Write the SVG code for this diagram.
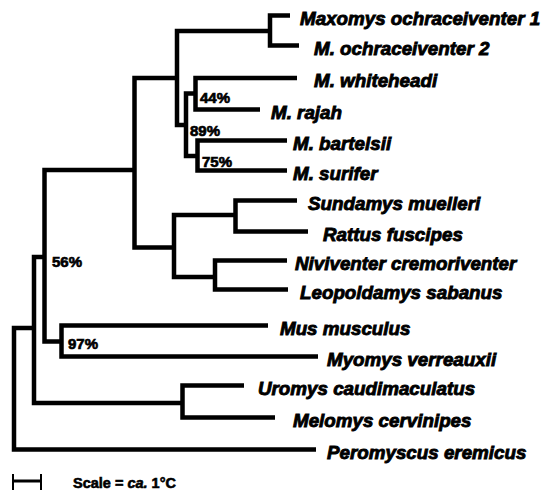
<svg xmlns="http://www.w3.org/2000/svg" width="542" height="494" viewBox="0 0 542 494">
<style>
.br{fill:none;stroke:#000;stroke-width:4.5;stroke-linejoin:miter;stroke-linecap:butt}
.tx{font-family:"Liberation Sans",Arial,sans-serif;font-weight:bold;font-style:italic;font-size:18.8px;fill:#000;stroke:#000;stroke-width:0.9}
.bs{font-family:"Liberation Sans",Arial,sans-serif;font-weight:bold;font-size:15px;fill:#000;stroke:#000;stroke-width:0.7}
.sc{font-family:"Liberation Sans",Arial,sans-serif;font-weight:bold;font-size:14.5px;fill:#000;stroke:#000;stroke-width:0.6}
</style>
<rect width="542" height="494" fill="#fff"/>
<g id="connectors">
<path class="br" d="M34 328H14V449.5H316"/>
<path class="br" d="M44.5 257H34V403H182.5"/>
<path class="br" d="M134.5 170H44.5V341.5H61.5"/>
<path class="br" d="M268 325.5H61.5V356.5H318"/>
<path class="br" d="M244 385.5H182.5V417.5H275"/>
<path class="br" d="M177 78H134.5V247.5H174"/>
<path class="br" d="M270 31H177V125H186"/>
<path class="br" d="M290 15.5H270V45.5H299"/>
<path class="br" d="M195.5 93.5H186V156H197.5"/>
<path class="br" d="M297 78H195.5V109.5H260"/>
<path class="br" d="M287 140.5H197.5V170.5H287"/>
<path class="br" d="M235.5 215H174V277H215"/>
<path class="br" d="M297 200.5H235.5V231.5H308"/>
<path class="br" d="M287 260.5H215V289.5H288"/>
</g>
<g id="support">
<text class="bs" x="200" y="103">44%</text>
<text class="bs" x="190" y="135.5">89%</text>
<text class="bs" x="202" y="167">75%</text>
<text class="bs" x="52" y="267">56%</text>
<text class="bs" x="68" y="349">97%</text>
</g>
<g id="maxomys-ochraceiventer-1"><text class="tx" x="300" y="25">Maxomys ochraceiventer 1</text></g>
<g id="m-ochraceiventer-2"><text class="tx" x="314" y="54.5">M. ochraceiventer 2</text></g>
<g id="m-whiteheadi"><text class="tx" x="314" y="87">M. whiteheadi</text></g>
<g id="m-rajah"><text class="tx" x="271" y="118.5">M. rajah</text></g>
<g id="m-bartelsii"><text class="tx" x="293" y="149.5">M. bartelsii</text></g>
<g id="m-surifer"><text class="tx" x="293" y="179.5">M. surifer</text></g>
<g id="sundamys-muelleri"><text class="tx" x="308" y="209.5">Sundamys muelleri</text></g>
<g id="rattus-fuscipes"><text class="tx" x="323" y="240.5">Rattus fuscipes</text></g>
<g id="niviventer-cremoriventer"><text class="tx" x="295" y="269.5">Niviventer cremoriventer</text></g>
<g id="leopoldamys-sabanus"><text class="tx" x="300" y="298.5">Leopoldamys sabanus</text></g>
<g id="mus-musculus"><text class="tx" x="280" y="334.5">Mus musculus</text></g>
<g id="myomys-verreauxii"><text class="tx" x="327" y="365.5">Myomys verreauxii</text></g>
<g id="uromys-caudimaculatus"><text class="tx" x="258" y="394.5">Uromys caudimaculatus</text></g>
<g id="melomys-cervinipes"><text class="tx" x="293" y="426.5">Melomys cervinipes</text></g>
<g id="peromyscus-eremicus"><text class="tx" x="327" y="458.5">Peromyscus eremicus</text></g>
<g id="scale">
<path d="M13 481H41" stroke="#000" stroke-width="3" fill="none"/>
<path d="M13 474V490M41 474V490" stroke="#000" stroke-width="2" fill="none"/>
<text class="sc" x="73" y="488">Scale = <tspan font-style="italic">ca.</tspan> 1°C</text>
</g>
</svg>
